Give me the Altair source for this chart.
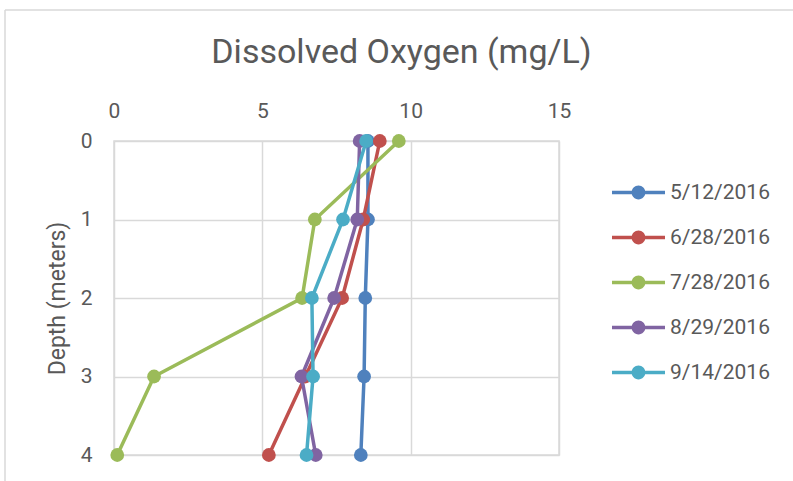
import altair as alt
import pandas as pd

depths = [0, 1, 2, 3, 4]
dates = ["5/12/2016", "6/28/2016", "7/28/2016", "8/29/2016", "9/14/2016"]
do_0512 = [8.56, 8.56, 8.47, 8.43, 8.32]
do_0628 = [8.96, 8.40, 7.69, 6.45, 5.22]
do_0728 = [9.60, 6.77, 6.34, 1.35, 0.11]
do_0829 = [8.28, 8.20, 7.42, 6.32, 6.80]
do_0914 = [8.50, 7.72, 6.67, 6.71, 6.49]
colors = ["#4F81BD", "#C0504D", "#9BBB59", "#8064A2", "#4BACC6"]
x_ticks = [0, 5, 10, 15]

series = [do_0512, do_0628, do_0728, do_0829, do_0914]
rows = []
for si, (d, vals) in enumerate(zip(dates, series)):
    for dep, v in zip(depths, vals):
        rows.append({"date": d, "depth": dep, "do": v, "s": si})
df = pd.DataFrame(rows)

FONT = "Roboto"
TXT = "#595959"

sym = ("M-2,-0.14H2V0.14H-2Z"
       "M-0.52,0a0.52,0.52 0 1,1 1.04,0a0.52,0.52 0 1,1 -1.04,0Z")

color_scale = alt.Scale(domain=dates, range=colors)
legend = alt.Legend(
    title=None, orient="none", legendX=511, legendY=38,
    symbolType=sym, symbolSize=702, symbolStrokeWidth=0,
    labelFont=FONT, labelFontSize=21, labelColor=TXT,
    rowPadding=21, labelOffset=18, symbolOpacity=1,
)

x = alt.X("do:Q", scale=alt.Scale(domain=[0, 15], nice=False),
          axis=alt.Axis(orient="top", values=x_ticks, title=None, domain=False,
                        ticks=False, tickSize=0, labelPadding=20, labelFlush=False,
                        labelFont=FONT, labelFontSize=21, labelColor=TXT,
                        gridColor="#D9D9D9", gridWidth=1.5))
y = alt.Y("depth:Q", scale=alt.Scale(domain=[0, 4], nice=False, reverse=True),
          axis=alt.Axis(values=depths, title="Depth (meters)", domain=False,
                        ticks=False, tickSize=0, labelPadding=22, labelFlush=False,
                        labelFont=FONT, labelFontSize=21, labelColor=TXT,
                        titleFont=FONT, titleFontSize=23, titleColor=TXT,
                        titleFontWeight="normal", titlePadding=11,
                        gridColor="#D9D9D9", gridWidth=1.5))

base = alt.Chart(df)
lines = base.mark_line(strokeWidth=3.5).encode(
    x=x, y=y,
    color=alt.Color("date:N", scale=color_scale, legend=legend),
    detail="date:N",
    order="depth:Q",
)
points = base.mark_circle(size=190, opacity=1).encode(
    x=x, y=y,
    color=alt.Color("date:N", scale=color_scale, legend=legend),
    order="s:Q",
)

frame = pd.DataFrame({"k": [0]})
border_top = alt.Chart(frame).mark_rule(color="#D9D9D9", strokeWidth=1.5).encode(
    x=alt.value(-109), x2=alt.value(700), y=alt.value(-131))
border_left = alt.Chart(frame).mark_rule(color="#D9D9D9", strokeWidth=1.5).encode(
    x=alt.value(-109), y=alt.value(-131), y2=alt.value(360))

chart = alt.layer(border_top, border_left, lines, points).properties(
    width=445, height=314,
    title=alt.TitleParams("Dissolved Oxygen (mg/L)", font=FONT, fontSize=34,
                          fontWeight="normal", color=TXT, anchor="middle",
                          dx=65, offset=-61),
    autosize=alt.AutoSizeParams(type="none"),
    padding={"left": 114, "top": 141, "right": 234, "bottom": 26},
).configure_view(stroke="#D9D9D9", strokeWidth=1.5)

chart.save("out.html", embed_options={"renderer": "svg", "actions": False})
